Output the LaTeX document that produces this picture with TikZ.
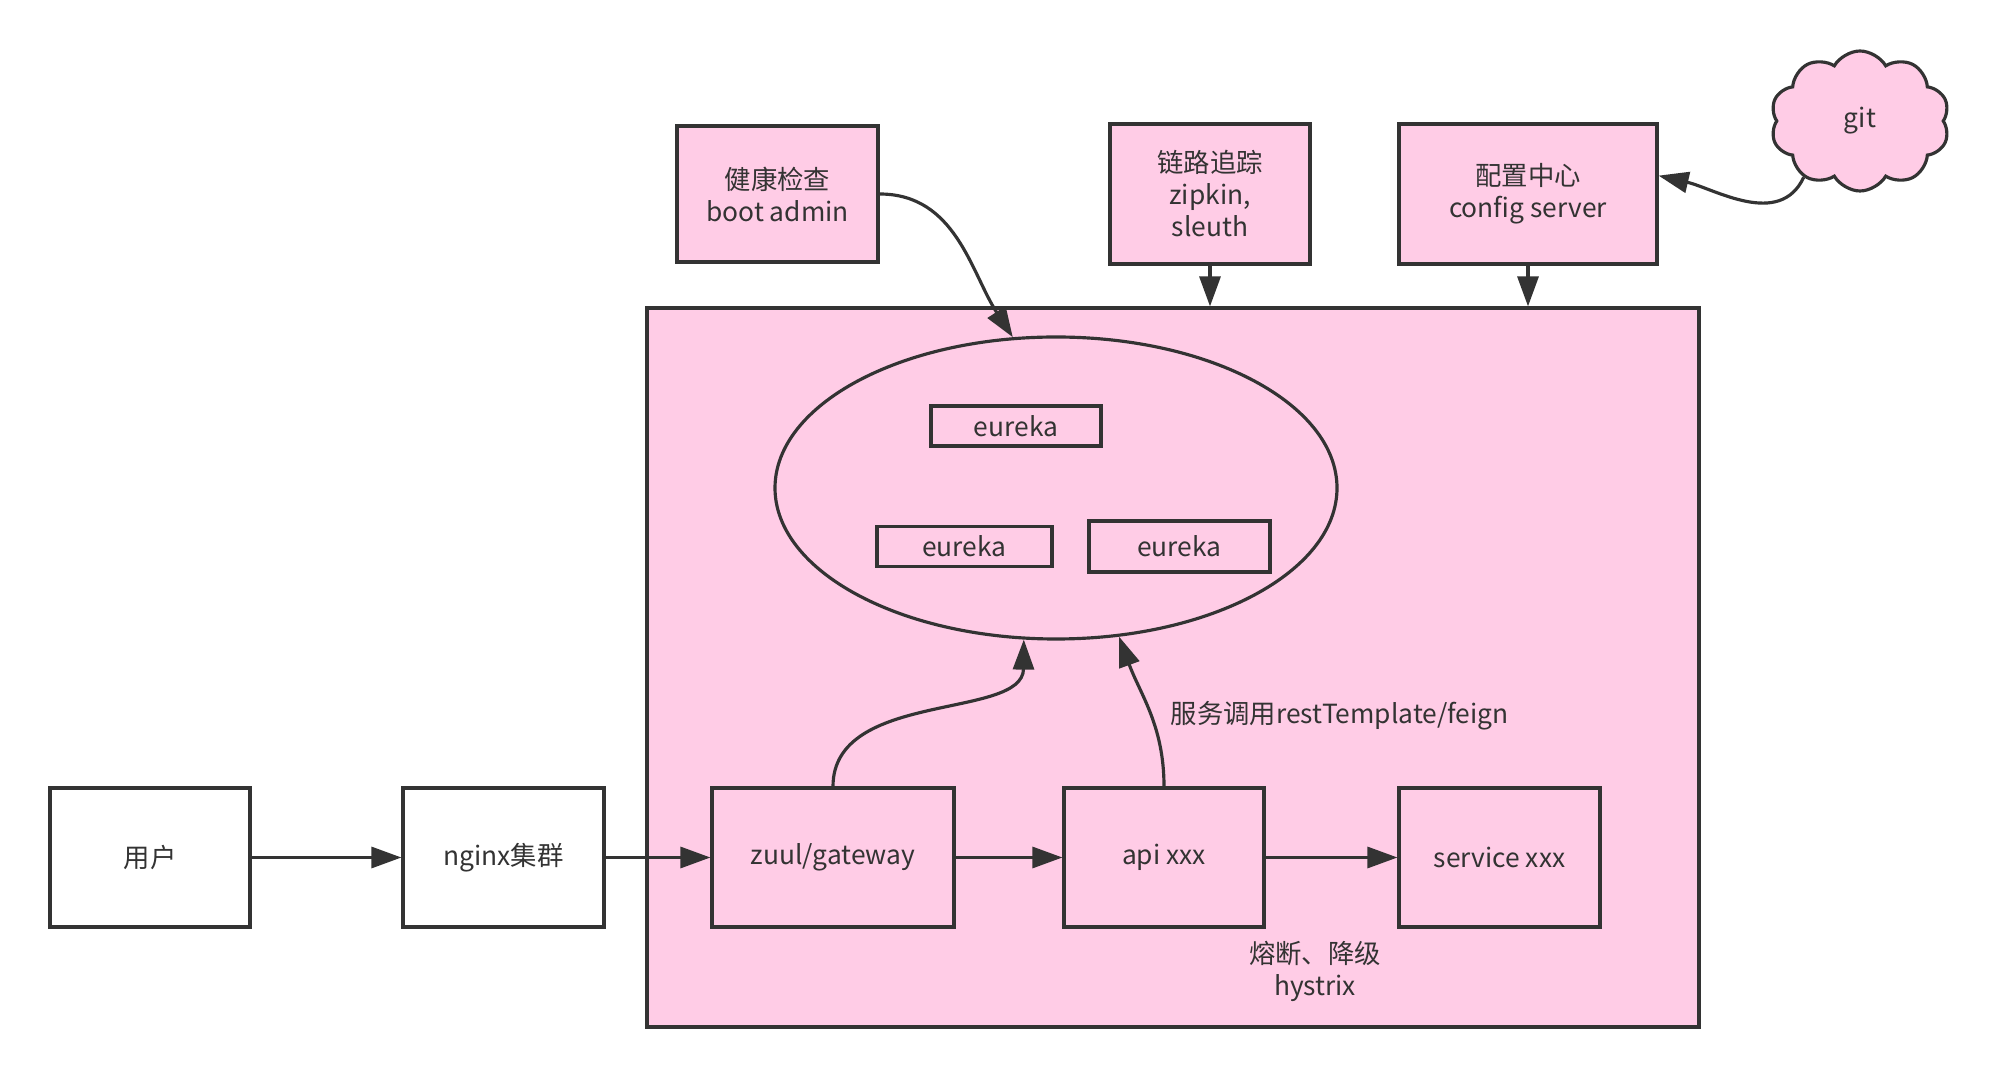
\documentclass[tikz,border=0pt]{standalone}
\usepackage{fontspec}
\setmainfont{Noto Sans CJK SC}
\usepackage{xcolor}
\usetikzlibrary{shapes.geometric,shapes.symbols,arrows.meta}
\definecolor{linegray}{HTML}{333333}
\definecolor{pinkfill}{HTML}{FFCCE6}
\tikzstyle{plainbox} = [rectangle, minimum width=4cm, minimum height=2.78cm, inner sep=0pt, text centered, draw=linegray, line width=1.8pt, fill=white]
\tikzstyle{pinkbox} = [rectangle, minimum width=4cm, minimum height=2.78cm, inner sep=0pt, align=center, draw=linegray, line width=1.8pt, fill=pinkfill]
\tikzstyle{smallbox} = [rectangle, minimum height=0.8cm, inner sep=0pt, text centered, draw=linegray, line width=1.8pt, fill=pinkfill]
\tikzstyle{arrow} = [line width=1.8pt, draw=linegray, -{Triangle[length=0.6cm,width=0.42cm]}]

\begin{document}
\begin{tikzpicture}[font=\fontsize{15}{18.2}\selectfont, text=linegray]
	\useasboundingbox (0,0) rectangle (40.04,21.56);

	\node (cluster) [pinkbox, minimum width=21.04cm, minimum height=14.38cm] at (23.46,8.21) {};
	\node (reg) [ellipse, draw=linegray, line width=1.8pt, fill=pinkfill, minimum width=11.24cm, minimum height=6.04cm] at (21.12,11.8) {};
	\node (eur1) [smallbox, minimum width=3.4cm] at (20.32,13.04) {eureka};
	\node (eur2) [smallbox, minimum width=3.5cm] at (19.29,10.63) {eureka};
	\node (eur3) [smallbox, minimum width=3.62cm, minimum height=1.02cm] at (23.59,10.63) {eureka};

	\node (user) [plainbox] at (3.0,4.41) {用户};
	\node (nginx) [plainbox, minimum width=4.02cm] at (10.07,4.41) {nginx集群};
	\node (zuul) [pinkbox, minimum width=4.84cm] at (16.66,4.41) {zuul/gateway};
	\node (api) [pinkbox] at (23.28,4.41) {api xxx};
	\node (service) [pinkbox, minimum width=4.02cm] at (29.99,4.41) {service xxx};

	\node (health) [pinkbox, minimum width=4.02cm, minimum height=2.72cm] at (15.55,17.68) {健康检查\\boot admin};
	\node (trace) [pinkbox, minimum height=2.8cm] at (24.2,17.68) {链路追踪\\zipkin,\\sleuth};
	\node (config) [pinkbox, minimum width=5.16cm, minimum height=2.8cm] at (30.56,17.68) {配置中心\\config server};
	\node (git) [cloud, cloud puffs=10, cloud puff arc=120, aspect=1.3, draw=linegray, line width=1.8pt, fill=pinkfill, minimum width=3.58cm, minimum height=2.8cm] at (37.2,19.14) {git};

	\node (calllbl) [anchor=west] at (23.29,7.24) {服务调用restTemplate/feign};
	\node (fuselbl) [align=center] at (26.3,2.14) {熔断、降级\\hystrix};

	\draw [arrow] (user) -- (nginx);
	\draw [arrow] (nginx) -- (zuul);
	\draw [arrow] (zuul) -- (api);
	\draw [arrow] (api) -- (service);
	\draw [arrow] (zuul.north) .. controls (16.66,7.76) and (20.46,7.16) .. (reg.258);
	\draw [arrow] (api.north) to[out=90, in=-70] (reg.-67);
	\draw [arrow] (health.east) to[out=0, in=123] (reg.106);
	\draw [arrow] (trace.south) -- (trace.south |- cluster.north);
	\draw [arrow] (config.south) -- (config.south |- cluster.north);
	\draw [arrow] (git.225) to[out=-115, in=-13] (config.8);

\end{tikzpicture}
\end{document}
